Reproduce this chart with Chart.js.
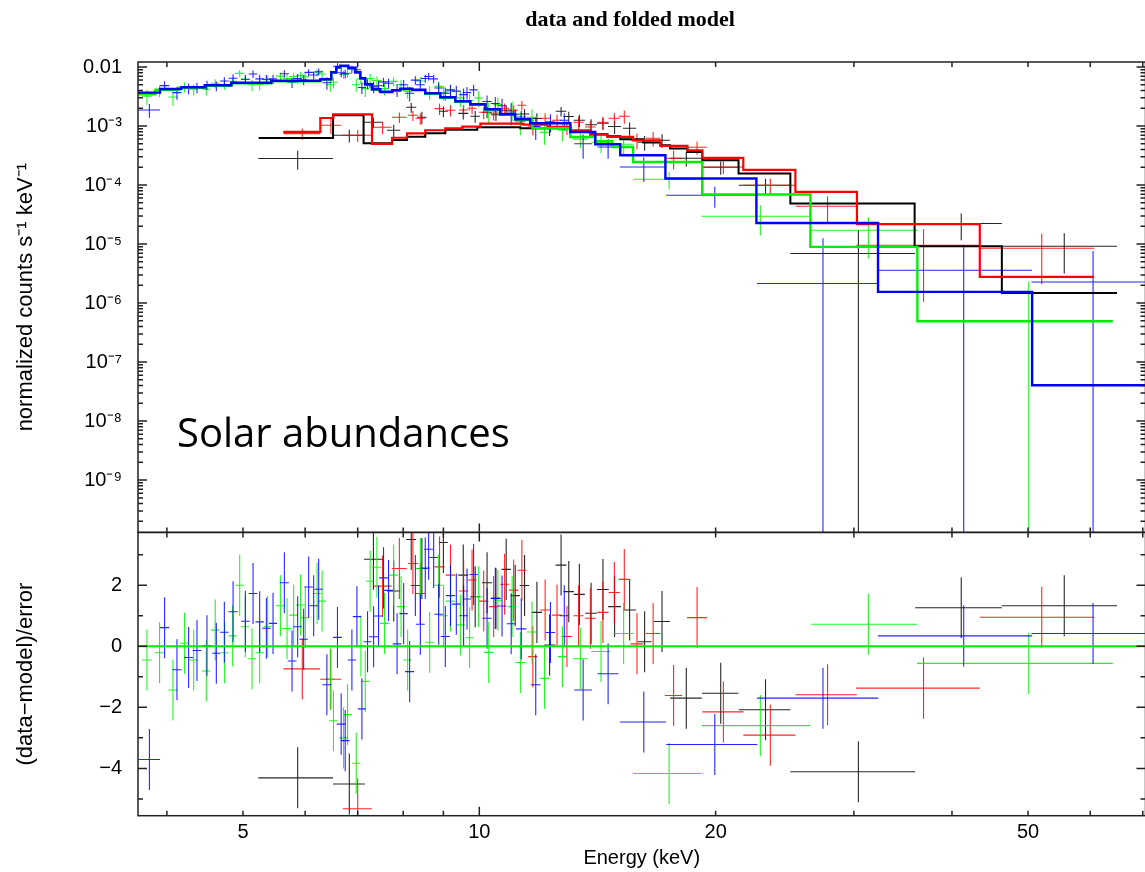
<!DOCTYPE html>
<html>
<head>
<meta charset="utf-8">
<script src="https://cdn.jsdelivr.net/npm/chart.js@4/dist/chart.umd.min.js"></script>
<style>
  html, body { margin: 0; padding: 0; background: #fff; overflow: hidden; }
  #wrap { width: 1260px; height: 872px; }
</style>
</head>
<body>
<div id="wrap"><canvas id="spec" width="1260" height="872"></canvas></div>
<script>
// ---- axis ticks and labels ----
const energyTicks = [5, 10, 20, 50];
const energyTickLabels = ['5', '10', '20', '50'];
const specTicks = [1e-2, 1e-3, 1e-4, 1e-5, 1e-6, 1e-7, 1e-8, 1e-9];
const specTickLabels = ['0.01', '10⁻³', '10⁻⁴', '10⁻⁵', '10⁻⁶', '10⁻⁷', '10⁻⁸', '10⁻⁹'];
const resTicks = [2, 0, -2, -4];
const resTickLabels = ['2', '0', '−2', '−4'];

// ---- spectrum 1 (black) : bin centre, half width (keV), counts, error, residual ----
const blackE = [5.87, 6.83, 7.33, 7.78, 8.19, 8.45, 9.0, 9.54, 9.88, 10.23, 10.50, 10.82, 11.11, 11.42, 11.84, 12.29, 12.71, 13.00, 13.41, 13.88, 14.37, 14.87, 15.54, 16.24, 17.09, 18.35, 20.3, 23.15, 30.4, 41.1, 55.6];
const blackDE = [0.64, 0.32, 0.2, 0.15, 0.12, 0.12, 0.12, 0.14, 0.14, 0.15, 0.15, 0.15, 0.15, 0.16, 0.18, 0.2, 0.2, 0.2, 0.22, 0.24, 0.25, 0.28, 0.3, 0.33, 0.4, 0.85, 1.08, 1.75, 5.5, 5.2, 9.3];
const blackY = [0.000281, 0.000697, 0.001157, 0.000847, 0.002077, 0.001406, 0.001777, 0.00164, 0.001462, 0.001709, 0.00155, 0.001848, 0.00158, 0.0016, 0.00134, 0.00093, 0.001777, 0.00145, 0.001251, 0.00105, 0.001112, 0.00098, 0.000915, 0.00053, 0.000573, 0.000284, 0.0002, 9.92e-5, 6.91e-6, 2.23e-5, 9.18e-6];
const blackErr = [0.0001, 0.00017, 0.00023, 0.0002, 0.0004, 0.00033, 0.00037, 0.00035, 0.00033, 0.00035, 0.00033, 0.00035, 0.00033, 0.00033, 0.0003, 0.00025, 0.00033, 0.0003, 0.0003, 0.00025, 0.00026, 0.00025, 0.00023, 0.00015, 0.00015, 0.00008, 0.00005, 2.8e-5, 1.02e-5, 1.07e-5, 6e-6];
const blackRes = [-4.31, -4.51, 2.85, 1.81, 3.5, 2.55, 3.40, 2.33, 1.62, 2.08, 1.57, 2.52, 1.66, 1.99, 1.11, 0.04, 2.66, 1.79, 1.70, 1.08, 1.86, 1.30, 1.19, 0.15, 0.81, -1.70, -1.54, -2.08, -4.11, 1.26, 1.33];

// ---- spectrum 2 (red) ----
const redE = [5.95, 6.47, 7.0, 7.53, 7.91, 8.23, 8.41, 8.90, 9.19, 9.55, 9.79, 10.13, 10.43, 10.77, 11.06, 11.33, 11.70, 12.13, 12.56, 12.93, 13.38, 13.85, 14.37, 14.86, 15.30, 15.88, 16.65, 17.68, 18.94, 20.46, 23.48, 27.77, 36.8, 52.05];
const redDE = [0.32, 0.2, 0.3, 0.2, 0.17, 0.12, 0.12, 0.13, 0.13, 0.13, 0.13, 0.14, 0.14, 0.15, 0.15, 0.15, 0.16, 0.18, 0.18, 0.2, 0.2, 0.22, 0.24, 0.25, 0.25, 0.3, 0.35, 0.45, 0.55, 1.23, 1.79, 2.5, 6.6, 8.65];
const redY = [0.000744, 0.00103, 0.000697, 0.000952, 0.001406, 0.00152, 0.00135, 0.001974, 0.001848, 0.001869, 0.002, 0.001709, 0.001643, 0.002, 0.001848, 0.002245, 0.00099, 0.00135, 0.001251, 0.000952, 0.001157, 0.000963, 0.001157, 0.00135, 0.001462, 0.000573, 0.00062, 0.000284, 0.000436, 0.000202, 9.92e-5, 4.37e-5, 9.54e-6, 8.49e-6];
const redErr = [0.00016, 0.0003, 0.00016, 0.00023, 0.00028, 0.0003, 0.0003, 0.00043, 0.0004, 0.0004, 0.0004, 0.0004, 0.0004, 0.0004, 0.0004, 0.0004, 0.0003, 0.0003, 0.0003, 0.00025, 0.00028, 0.00025, 0.00028, 0.0003, 0.00037, 0.00017, 0.00017, 0.0001, 0.00011, 0.00005, 2.8e-5, 2.1e-5, 8.5e-6, 6.4e-6];
const redRes = [-0.74, -1.08, -5.32, 1.97, 2.55, 2.71, 1.73, 2.60, 2.33, 1.81, 2.17, 1.48, 1.30, 2.03, 1.84, 2.49, -0.34, 1.19, 1.02, 0.32, 1.0, 0.92, 1.11, 1.76, 2.19, 0.08, 0.42, -1.61, 0.94, -2.15, -2.91, -1.59, -1.37, 0.95];

// ---- spectrum 3 (green) ----
const greenE = [3.773, 3.915, 4.072, 4.213, 4.327, 4.490, 4.609, 4.738, 4.851, 4.952, 5.035, 5.134, 5.251, 5.375, 5.58, 5.690, 5.801, 5.92, 6.003, 6.214, 6.306, 6.46, 6.520, 6.715, 6.795, 6.970, 7.066, 7.157, 7.26, 7.406, 7.573, 7.778, 7.949, 8.104, 8.412, 8.645, 8.876, 9.005, 9.19, 9.46, 9.719, 9.98, 10.28, 10.56, 11.01, 11.28, 11.67, 12.11, 12.76, 13.45, 14.29, 15.27, 17.45, 22.8, 31.3, 50.1];
const greenDE = [0.055, 0.055, 0.055, 0.055, 0.055, 0.055, 0.055, 0.055, 0.055, 0.065, 0.065, 0.065, 0.065, 0.065, 0.075, 0.075, 0.075, 0.075, 0.075, 0.075, 0.075, 0.085, 0.085, 0.085, 0.085, 0.085, 0.085, 0.085, 0.085, 0.1, 0.1, 0.1, 0.1, 0.1, 0.11, 0.11, 0.11, 0.11, 0.12, 0.12, 0.12, 0.12, 0.14, 0.14, 0.14, 0.17, 0.17, 0.17, 0.17, 0.3, 0.4, 0.45, 1.75, 3.6, 4.85, 14];
const greenY = [0.0032, 0.0040, 0.0031, 0.0046, 0.0042, 0.0042, 0.0053, 0.0050, 0.0057, 0.0078, 0.0062, 0.0050, 0.0051, 0.0061, 0.0070, 0.0064, 0.0069, 0.0072, 0.0068, 0.0080, 0.0076, 0.0050, 0.0055, 0.0075, 0.0078, 0.0050, 0.0063, 0.0043, 0.0064, 0.0059, 0.0043, 0.0057, 0.0050, 0.0039, 0.0058, 0.0037, 0.0047, 0.0037, 0.0039, 0.0030, 0.0027, 0.0030, 0.0018, 0.0023, 0.0019, 0.0012, 0.0014, 0.00078, 0.00085, 0.00060, 0.00053, 0.00049, 0.000125, 2.96e-5, 1.71e-5, -1.1e-6];
const greenErr = [0.0009, 0.0009, 0.0009, 0.0009, 0.0009, 0.0009, 0.0009, 0.0009, 0.0009, 0.0011, 0.0011, 0.0011, 0.0011, 0.0011, 0.0011, 0.0011, 0.0011, 0.0011, 0.0011, 0.0011, 0.0011, 0.0012, 0.0012, 0.0012, 0.0012, 0.0012, 0.0012, 0.0012, 0.0012, 0.0010, 0.0010, 0.0010, 0.0010, 0.0010, 0.0010, 0.0010, 0.0010, 0.0010, 0.0009, 0.0009, 0.0009, 0.0009, 0.0007, 0.0007, 0.0007, 0.0005, 0.0005, 0.0003, 0.0003, 0.00018, 0.00018, 0.00018, 0.00004, 1.57e-5, 1.14e-5, 3.4e-6];
const greenRes = [-0.45, -0.21, -1.43, 0.10, -0.45, -0.81, 0.53, -0.21, 0.34, 2.0, 0.64, -0.41, -0.21, 0.64, 1.33, 0.58, 1.02, 1.35, 0.94, 1.73, 1.48, -1.07, -2.44, -3.0, -2.24, -3.83, 0.01, -1.15, 2.13, 2.59, 0.75, 2.33, 1.30, -0.45, 2.55, 0.13, 2.0, 1.0, 1.48, 0.70, 0.28, 1.62, -0.20, 1.51, 1.30, -0.53, 0.47, -1.05, -0.34, -0.41, -0.17, 0.42, -4.17, -2.6, 0.72, -0.56];

// ---- spectrum 4 (blue) ----
const blueE = [3.80, 3.973, 4.120, 4.263, 4.369, 4.499, 4.624, 4.734, 4.857, 5.035, 5.150, 5.251, 5.355, 5.461, 5.645, 5.774, 5.870, 5.974, 6.062, 6.152, 6.243, 6.395, 6.597, 6.669, 6.748, 6.882, 6.984, 7.087, 7.205, 7.334, 7.441, 7.551, 7.663, 7.857, 8.010, 8.152, 8.290, 8.412, 8.534, 8.619, 8.747, 8.876, 9.051, 9.19, 9.348, 9.55, 9.646, 9.834, 10.23, 10.48, 10.69, 10.98, 11.31, 11.80, 12.32, 12.83, 13.56, 14.59, 16.2, 19.95, 27.4, 41.4, 60.5];
const blueDE = [0.12, 0.055, 0.055, 0.055, 0.055, 0.055, 0.055, 0.06, 0.065, 0.065, 0.065, 0.065, 0.065, 0.065, 0.075, 0.075, 0.075, 0.075, 0.075, 0.075, 0.075, 0.085, 0.085, 0.085, 0.085, 0.085, 0.085, 0.085, 0.085, 0.1, 0.1, 0.1, 0.1, 0.1, 0.1, 0.11, 0.11, 0.11, 0.11, 0.11, 0.11, 0.11, 0.12, 0.12, 0.12, 0.12, 0.12, 0.12, 0.14, 0.14, 0.14, 0.14, 0.17, 0.17, 0.17, 0.17, 0.35, 0.45, 1.1, 2.65, 4.83, 9.2, 10];
const blueY = [0.00187, 0.00484, 0.00368, 0.00436, 0.0045, 0.00496, 0.0048, 0.0058, 0.00643, 0.0062, 0.00761, 0.0063, 0.0062, 0.0063, 0.0077, 0.0055, 0.0064, 0.0060, 0.0081, 0.0073, 0.0083, 0.0054, 0.0103, 0.0080, 0.0077, 0.0092, 0.0090, 0.0045, 0.0052, 0.0046, 0.0048, 0.0056, 0.0053, 0.0041, 0.0050, 0.0036, 0.0060, 0.0050, 0.0064, 0.0069, 0.0063, 0.0044, 0.0036, 0.0041, 0.0039, 0.0034, 0.0037, 0.0041, 0.0026, 0.0024, 0.0022, 0.00173, 0.00142, 0.00098, 0.00118, 0.00125, 0.0005, 0.00044, 0.000202, 6.71e-5, 2.14e-6, 3.60e-6, 2.28e-6];
const blueErr = [0.00049, 0.0009, 0.0009, 0.0009, 0.0009, 0.0009, 0.0009, 0.0009, 0.0011, 0.0011, 0.0011, 0.0011, 0.0011, 0.0011, 0.0011, 0.0011, 0.0011, 0.0011, 0.0011, 0.0011, 0.0011, 0.0013, 0.0013, 0.0013, 0.0013, 0.0013, 0.0013, 0.0010, 0.0010, 0.0010, 0.0010, 0.0010, 0.0010, 0.0010, 0.0010, 0.0010, 0.0010, 0.0010, 0.0010, 0.0010, 0.0010, 0.0010, 0.0009, 0.0009, 0.0009, 0.0009, 0.0009, 0.0009, 0.0007, 0.0007, 0.0007, 0.0007, 0.0004, 0.0004, 0.0004, 0.0004, 0.00022, 0.00016, 0.00009, 2.6e-5, 1.04e-5, 5.95e-6, 5.36e-6];
const blueRes = [-3.71, 0.61, -0.77, -0.37, -0.14, 0.02, -0.23, 0.46, 1.13, 0.82, 1.73, 0.80, 0.59, 0.75, 2.08, -0.48, 0.64, 0.23, 1.94, 1.33, 1.87, -1.26, 0.29, -2.55, -3.09, -0.45, 0.97, -2.05, 0.15, 0.31, 0.99, 2.24, 1.83, 0.08, 1.07, -0.83, 1.99, 0.72, 2.56, 3.18, 2.91, 1.05, 0.32, 1.66, 1.38, 1.0, 1.55, 2.35, 0.92, 1.57, 1.32, 0.74, 0.57, -1.26, 0.45, 1.0, -1.43, -0.90, -2.48, -3.22, -1.70, 0.34, 0.42];

// ---- folded models: bin edges (keV) and level of each bin ----
const blackModelE = [5.235, 6.512, 7.122, 7.742, 8.090, 8.534, 9.051, 9.941, 11.28, 13.06, 13.85, 14.56, 15.12, 16.18, 17.01, 17.50, 18.41, 19.23, 21.39, 24.90, 35.85, 46.3, 64.9];
const blackModelY = [0.000627, 0.00152, 0.00051, 0.00058, 0.000657, 0.000753, 0.000864, 0.000952, 0.000915, 0.000793, 0.000725, 0.00067, 0.000596, 0.000524, 0.000472, 0.000415, 0.000363, 0.000263, 0.0001565, 4.86e-5, 9.18e-6, 1.486e-6];
const redModelE = [5.627, 6.273, 6.517, 7.300, 7.742, 8.090, 8.534, 9.051, 9.512, 10.03, 11.38, 12.21, 13.06, 13.85, 14.56, 15.70, 17.01, 18.41, 19.23, 21.69, 25.27, 30.27, 43.4, 60.7];
const redModelY = [0.000793, 0.001368, 0.001571, 0.0005, 0.000632, 0.000753, 0.000847, 0.000915, 0.000978, 0.0011, 0.001058, 0.000971, 0.000847, 0.000716, 0.000652, 0.000573, 0.000459, 0.000388, 0.000288, 0.000181, 7.63e-5, 2.17e-5, 2.77e-6];
const greenModelE = [3.6, 3.867, 4.137, 4.477, 4.832, 5.433, 6.273, 6.478, 6.574, 6.651, 6.809, 6.950, 7.053, 7.157, 7.30, 7.48, 7.747, 7.93, 8.215, 8.534, 8.92, 9.32, 9.74, 10.18, 10.63, 11.11, 11.68, 13.06, 14.05, 14.77, 15.70, 19.23, 26.41, 36.14, 64.1];
const greenModelY = [0.003448, 0.004109, 0.004442, 0.004803, 0.005296, 0.005726, 0.006071, 0.007976, 0.009692, 0.010277, 0.009506, 0.007976, 0.006311, 0.004995, 0.004109, 0.003728, 0.003952, 0.004192, 0.00403, 0.003516, 0.003009, 0.002574, 0.002289, 0.001884, 0.00155, 0.001275, 0.000915, 0.000652, 0.000551, 0.000442, 0.000246, 6.9e-5, 8.94e-6, 4.93e-7];
const blueModelE = [3.6, 3.92, 4.173, 4.477, 4.832, 5.433, 6.273, 6.478, 6.574, 6.651, 6.809, 6.950, 7.053, 7.157, 7.30, 7.48, 7.747, 7.93, 8.215, 8.534, 8.92, 9.32, 9.74, 10.18, 10.63, 11.11, 11.61, 13.06, 14.05, 15.12, 17.26, 22.54, 32.2, 50.6, 75];
const blueModelY = [0.003684, 0.00424, 0.004531, 0.004898, 0.0054, 0.005838, 0.006188, 0.008135, 0.009884, 0.010478, 0.009692, 0.008135, 0.006434, 0.005093, 0.004192, 0.003801, 0.00403, 0.004272, 0.004109, 0.003585, 0.003067, 0.002624, 0.002334, 0.001921, 0.00158, 0.0013, 0.001112, 0.000793, 0.00049, 0.000319, 0.0001287, 2.279e-5, 1.545e-6, 4.06e-8];

// ---- styling ----
const FONT = '"Liberation Sans", Arial, Helvetica, sans-serif';
const FRAME = '#222222';
const series = [
  { color: '#000000', E: blackE, dE: blackDE, y: blackY, err: blackErr, res: blackRes, mE: blackModelE, mY: blackModelY, mWidth: 2 },
  { color: '#ff0000', E: redE, dE: redDE, y: redY, err: redErr, res: redRes, mE: redModelE, mY: redModelY, mWidth: 2.2 },
  { color: '#00ee00', E: greenE, dE: greenDE, y: greenY, err: greenErr, res: greenRes, mE: greenModelE, mY: greenModelY, mWidth: 2.4 },
  { color: '#0000ff', E: blueE, dE: blueDE, y: blueY, err: blueErr, res: blueRes, mE: blueModelE, mY: blueModelY, mWidth: 2.4 }
];
const heading = { text: 'data and folded model', font: 'bold 22px "Liberation Serif", "Times New Roman", serif', baseline: 26 };
const label = { text: 'Solar abundances', energy: 4.12, level: 3.6e-9, font: '40px "Open Sans", "Noto Sans", sans-serif' };

// ---- datasets ----
const datasets = [];
series.forEach((s, k) => {
  // folded model, histogram style (later spectra drawn on top)
  datasets.push({
    type: 'line', xAxisID: 'x', yAxisID: 'ySpec', order: 4 - k,
    data: s.mE.map((e, i) => ({ x: e, y: s.mY[Math.min(i, s.mY.length - 1)] })),
    borderColor: s.color, borderWidth: s.mWidth, pointRadius: 0, fill: false,
    stepped: 'before', tension: 0
  });
});
series.forEach((s, k) => {
  datasets.push({
    type: 'scatter', xAxisID: 'x', yAxisID: 'ySpec', order: 20 + k, errorBars: true, rank: k,
    data: s.E.map((e, i) => ({ x: e, y: s.y[i], xErr: s.dE[i], yErr: s.err[i] })),
    borderColor: s.color, pointRadius: 0
  });
  datasets.push({
    type: 'scatter', xAxisID: 'x', yAxisID: 'yRes', order: 30 + k, errorBars: true, rank: k,
    data: s.E.map((e, i) => ({ x: e, y: s.res[i], xErr: s.dE[i], yErr: 1 })),
    borderColor: s.color, pointRadius: 0
  });
});

// ---- tick-mark helpers ----
function logMarks(min, max) {
  const out = [];
  for (let e = Math.floor(Math.log10(min)); e <= Math.ceil(Math.log10(max)); e++) {
    for (let m = 1; m <= 9; m++) {
      const v = m * Math.pow(10, e);
      if (v >= min && v <= max) out.push({ value: v, major: m === 1 });
    }
  }
  return out;
}
function linMarks(min, max) {
  const out = [];
  for (let v = Math.ceil(min); v <= Math.floor(max); v++) out.push({ value: v, major: v % 2 === 0 });
  return out;
}

function drawErrorBars(chart) {
  const ctx = chart.ctx;
  const items = chart.data.datasets.filter(ds => ds.errorBars);
  items.sort((a, b) => a.rank - b.rank);
  items.forEach(ds => {
    const xs = chart.scales[ds.xAxisID];
    const ys = chart.scales[ds.yAxisID];
    const isLog = ys.type === 'logarithmic';
    const yPix = v => (isLog && v <= ys.min) ? ys.bottom + 4 : ys.getPixelForValue(v);
    ctx.save();
    ctx.beginPath();
    ctx.rect(xs.left, ys.top, xs.right - xs.left, ys.bottom - ys.top);
    ctx.clip();
    ctx.strokeStyle = ds.borderColor;
    ctx.lineWidth = 1.1;
    ctx.globalAlpha = 0.85;
    ds.data.forEach(p => {
      const xc = xs.getPixelForValue(p.x);
      ctx.beginPath();
      ctx.moveTo(xc, yPix(p.y - p.yErr));
      ctx.lineTo(xc, yPix(p.y + p.yErr));
      if (!(isLog && p.y <= ys.min)) {
        const yc = ys.getPixelForValue(p.y);
        ctx.moveTo(xs.getPixelForValue(p.x - p.xErr), yc);
        ctx.lineTo(xs.getPixelForValue(p.x + p.xErr), yc);
      }
      ctx.stroke();
    });
    ctx.restore();
  });
}

function drawFrames(chart) {
  const ctx = chart.ctx;
  const xs = chart.scales.x;
  const xMarks = logMarks(xs.min, xs.max);
  const ys0 = chart.scales.yRes;
  // zero line of the residual panel
  ctx.save();
  ctx.beginPath();
  ctx.rect(xs.left, ys0.top, xs.right - xs.left, ys0.bottom - ys0.top);
  ctx.clip();
  ctx.strokeStyle = '#00ee00';
  ctx.lineWidth = 2;
  const y0 = ys0.getPixelForValue(0);
  ctx.beginPath(); ctx.moveTo(xs.left, y0); ctx.lineTo(xs.right, y0); ctx.stroke();
  ctx.restore();

  ctx.save();
  ctx.strokeStyle = FRAME;
  ctx.lineWidth = 1.5;
  ['ySpec', 'yRes'].forEach(id => {
    const ys = chart.scales[id];
    ctx.strokeRect(xs.left, ys.top, xs.right - xs.left, ys.bottom - ys.top);
    ctx.beginPath();
    xMarks.forEach(t => {
      const px = xs.getPixelForValue(t.value);
      const len = t.major ? 9 : 5;
      ctx.moveTo(px, ys.top); ctx.lineTo(px, ys.top + len);
      ctx.moveTo(px, ys.bottom); ctx.lineTo(px, ys.bottom - len);
    });
    const yMarks = ys.type === 'logarithmic' ? logMarks(ys.min, ys.max) : linMarks(ys.min, ys.max);
    yMarks.forEach(t => {
      const py = ys.getPixelForValue(t.value);
      const len = t.major ? 9 : 5;
      ctx.moveTo(xs.left, py); ctx.lineTo(xs.left + len, py);
      ctx.moveTo(xs.right, py); ctx.lineTo(xs.right - len, py);
    });
    ctx.stroke();
  });
  ctx.restore();

  // panel caption and plot heading
  const ysp = chart.scales.ySpec;
  ctx.save();
  ctx.fillStyle = '#000';
  ctx.textBaseline = 'alphabetic';
  ctx.font = label.font;
  ctx.textAlign = 'left';
  ctx.fillText(label.text, xs.getPixelForValue(label.energy), ysp.getPixelForValue(label.level));
  ctx.font = heading.font;
  ctx.textAlign = 'center';
  ctx.fillText(heading.text, chart.width / 2, heading.baseline);
  ctx.restore();
}

const spectrumPlugin = {
  id: 'spectrumPlugin',
  beforeDatasetsDraw: chart => drawErrorBars(chart),
  afterDatasetsDraw: chart => drawFrames(chart)
};

const tickFont = { family: FONT, size: 20 };
const noGrid = { display: false, drawTicks: false };

new Chart(document.getElementById('spec'), {
  type: 'scatter',
  data: { datasets },
  plugins: [spectrumPlugin],
  options: {
    responsive: false,
    animation: false,
    events: [],
    devicePixelRatio: 1,
    layout: { padding: { left: 0, right: 114.5, top: 62, bottom: 0 } },
    plugins: {
      legend: { display: false },
      tooltip: { enabled: false },
      title: { display: false }
    },
    scales: {
      x: {
        type: 'logarithmic', position: 'bottom', min: 3.675, max: 70.56, bounds: 'data',
        grid: noGrid, border: { display: false },
        afterBuildTicks: s => { s.ticks = energyTicks.map(v => ({ value: v })); },
        afterFit: s => { s.height = 56.3; },
        ticks: { autoSkip: false, maxRotation: 0, padding: 5, font: tickFont, color: '#000',
          callback: v => { const i = energyTicks.indexOf(v); return i >= 0 ? energyTickLabels[i] : ''; } },
        title: { display: true, text: 'Energy (keV)', font: { family: FONT, size: 20 }, color: '#000', padding: { top: 0, bottom: 2 } }
      },
      yRes: {
        type: 'linear', position: 'left', stack: 'panels', stackWeight: 283.4,
        min: -5.55, max: 3.73, bounds: 'data',
        grid: noGrid, border: { display: false },
        afterBuildTicks: s => { s.ticks = resTicks.map(v => ({ value: v })); },
        afterFit: s => { s.width = 138; },
        ticks: { autoSkip: false, padding: 16, font: tickFont, color: '#000',
          callback: v => { const i = resTicks.indexOf(v); return i >= 0 ? resTickLabels[i] : ''; } },
        title: { display: true, text: '(data−model)/error', font: { family: FONT, size: 22 }, color: '#000', padding: { top: 13, bottom: 0 } }
      },
      ySpec: {
        type: 'logarithmic', position: 'left', stack: 'panels', stackWeight: 470.6,
        min: 1.3e-10, max: 0.01215, bounds: 'data',
        grid: noGrid, border: { display: false },
        afterBuildTicks: s => { s.ticks = specTicks.map(v => ({ value: v })); },
        afterFit: s => { s.width = 138; },
        ticks: { autoSkip: false, padding: 16, font: tickFont, color: '#000',
          callback: v => { const i = specTicks.indexOf(v); return i >= 0 ? specTickLabels[i] : ''; } },
        title: { display: true, text: 'normalized counts s⁻¹ keV⁻¹', font: { family: FONT, size: 22 }, color: '#000', padding: { top: 13, bottom: 0 } }
      }
    }
  }
});
</script>
</body>
</html>
